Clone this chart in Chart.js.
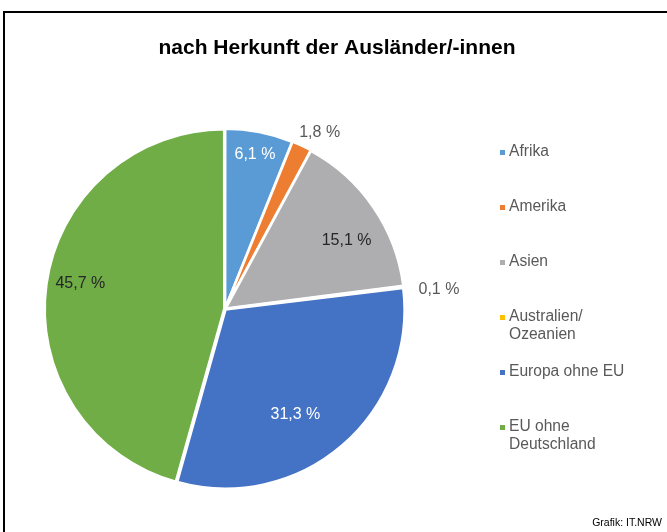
<!DOCTYPE html>
<html>
<head>
<meta charset="utf-8">
<script src="https://cdn.jsdelivr.net/npm/chart.js@4/dist/chart.umd.min.js"></script>
<style>
  html, body { margin: 0; padding: 0; background: #fff; }
  canvas { display: block; }
</style>
</head>
<body>
<canvas id="c" width="667" height="532"></canvas>
<script>
const titleText = 'nach Herkunft der Ausländer/-innen';
const categories = ['Afrika', 'Amerika', 'Asien', ['Australien/', 'Ozeanien'], 'Europa ohne EU', ['EU ohne', 'Deutschland']];
const shares = [6.1, 1.8, 15.1, 0.1, 31.3, 45.7];
const colors = ['#5B9BD5', '#ED7D31', '#AEAEB1', '#FFC000', '#4472C4', '#70AD47'];
const sourceText = 'Grafik: IT.NRW';

// label placement per slice: radius factor, angle nudge (deg), colour
const labelStyle = [
  { f: 0.88, da: 0,  color: '#ffffff' },
  { f: 1.12, da: 3,  color: '#595959' },
  { f: 0.78, da: 5,  color: '#262626' },
  { f: 1.20, da: 2,  color: '#595959' },
  { f: 0.71, da: 7,  color: '#ffffff' },
  { f: 0.82, da: 2,  color: '#262626' }
];

const FONT = '"Liberation Sans", Arial, sans-serif';

const decor = {
  id: 'decor',
  afterDraw(chart) {
    const ctx = chart.ctx;
    ctx.save();
    // frame
    ctx.strokeStyle = '#000';
    ctx.lineWidth = 2;
    ctx.strokeRect(4, 12, 800, 700);
    // title
    ctx.fillStyle = '#000';
    ctx.font = 'bold 21px ' + FONT;
    ctx.textAlign = 'center';
    ctx.textBaseline = 'middle';
    ctx.fillText(titleText, 337, 48);

    // data labels
    const meta = chart.getDatasetMeta(0);
    ctx.font = '16px ' + FONT;
    meta.data.forEach((arc, i) => {
      const p = arc.getProps(['x', 'y', 'startAngle', 'endAngle', 'outerRadius'], true);
      const st = labelStyle[i];
      const mid = (p.startAngle + p.endAngle) / 2 + st.da * Math.PI / 180;
      const r = p.outerRadius * st.f;
      const x = p.x + Math.cos(mid) * r;
      const y = p.y + Math.sin(mid) * r;
      ctx.fillStyle = st.color;
      ctx.fillText(shares[i].toFixed(1).replace('.', ',') + ' %', x, y);
    });

    // legend
    ctx.textAlign = 'left';
    ctx.font = '15.6px ' + FONT;
    const lx = 500, ly0 = 152, step = 55, lh = 18;
    categories.forEach((lab, i) => {
      const y = ly0 + i * step;
      ctx.fillStyle = colors[i];
      ctx.fillRect(lx, y - 2, 5, 5);
      ctx.fillStyle = '#595959';
      const lines = Array.isArray(lab) ? lab : [lab];
      lines.forEach((t, k) => ctx.fillText(t, lx + 9, y + k * lh));
    });

    // source
    ctx.fillStyle = '#000';
    ctx.font = '10.5px ' + FONT;
    ctx.textAlign = 'right';
    ctx.fillText(sourceText, 662, 523);
    ctx.restore();
  }
};

new Chart(document.getElementById('c'), {
  type: 'pie',
  data: {
    labels: categories,
    datasets: [{
      data: shares,
      backgroundColor: colors,
      borderColor: '#ffffff',
      borderWidth: 2.5,
      offset: 3
    }]
  },
  options: {
    responsive: false,
    animation: false,
    radius: 179,
    layout: { padding: { left: 20, right: 237, top: 110, bottom: 24 } },
    plugins: {
      legend: { display: false },
      tooltip: { enabled: false },
      title: { display: false }
    }
  },
  plugins: [decor]
});
</script>
</body>
</html>
